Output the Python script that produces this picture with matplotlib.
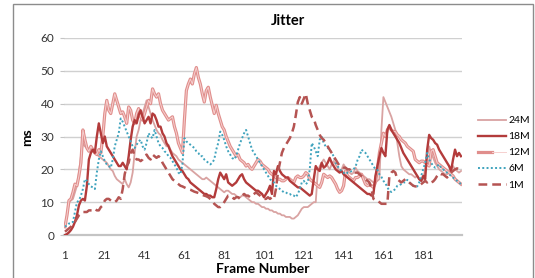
import matplotlib
matplotlib.use("Agg")
import matplotlib.pyplot as plt
from matplotlib.patches import Rectangle
from matplotlib.legend_handler import HandlerTuple
import numpy as np

plt.rcParams['font.family'] = ['Lato', 'DejaVu Sans']

# frame numbers 1..200
frames = np.arange(1, 201)
tick_frames = [1, 21, 41, 61, 81, 101, 121, 141, 161, 181]

jitter_24m = [
    3, 6, 10, 10.5, 11, 13, 15, 19, 24, 28,
    27, 26.5, 26, 25.5, 25.5, 25, 24.5, 24, 23.5, 23,
    22.5, 22, 21, 20, 19.5, 18, 17, 16.5, 16, 15.5,
    17, 15.5, 14.5, 16, 19, 25, 30, 32, 35, 37,
    39, 41, 39, 37, 35, 33.5, 32, 31, 30.5, 29,
    28, 27, 27.5, 26, 25, 24.5, 24, 23, 22.5, 22,
    21.5, 21, 20.5, 20, 19.5, 19, 18.5, 18, 17.5, 17,
    17, 17.5, 17, 16.5, 16, 15.5, 15, 14.5, 14, 13.5,
    13, 13.5, 13.5, 13, 12.5, 12.5, 12, 11.5, 11.5, 12,
    12, 11.5, 11, 10.5, 10, 10, 9.5, 9.5, 9, 8.5,
    8.5, 8, 8, 7.5, 7.5, 7, 7, 6.5, 6.5, 6,
    6, 5.5, 5.5, 5.5, 5, 5, 5.5, 6, 7, 8,
    8.5, 8.5, 8.5, 9, 9.5, 10, 10, 19, 21, 22,
    23, 22, 21, 20, 21.5, 22.5, 21.5, 20.5, 19.5, 20,
    21.5, 20.5, 19.5, 19, 18.5, 19, 20.5, 19.5, 19, 18.5,
    18, 17.5, 17, 17, 16.5, 16, 16, 16.5, 17, 32,
    42, 40.5, 39, 37.5, 36, 34, 32, 28, 24, 21,
    20, 19.5, 19, 18.5, 18.5, 18, 17.5, 18, 17, 16.5,
    17, 20, 24, 27, 25, 23.5, 22, 21, 20, 19.5,
    19, 18.5, 18.5, 19, 20, 21, 20, 19.5, 19, 19.5,
]

jitter_18m = [
    0, 0.3, 0.8, 1.5, 2.5, 4, 6, 9, 10.5, 11,
    10.5, 15, 23, 25, 26, 25, 30, 34, 31, 28,
    30, 27, 26, 25, 24, 23, 22, 21, 21, 22,
    21, 20, 24, 29, 33, 35, 34, 36.5, 38, 36,
    34, 35, 36, 34, 37, 36.5, 35, 33, 33, 31,
    30, 28, 27, 25.5, 24, 23, 22, 21, 20, 19.5,
    18.5, 17.5, 17, 16, 15.5, 15, 14.5, 14, 13.5, 13,
    12.5, 12.5, 12, 12, 11.5, 11.5, 14, 17, 19, 18,
    17, 18.5, 16, 15.5, 15, 15.5, 16, 17, 18, 18.5,
    17, 16, 15.5, 15, 14.5, 14, 13.5, 13.5, 13, 12.5,
    11.5, 12.5, 13.5, 15, 12.5, 19.5, 18.5, 21, 19.5, 18.5,
    18, 17.5, 17.5, 16.5, 16, 15.5, 15, 14.5, 14.5, 14,
    13.5, 13, 12.5, 12, 12.5, 17, 21, 20, 19.5, 22,
    20.5, 21, 22, 23.5, 22, 21, 20, 19.5, 19, 19.5,
    18.5, 18, 17.5, 17, 16.5, 16, 15.5, 15, 14.5, 14,
    13.5, 13, 12.5, 12.5, 12, 12.5, 18, 21, 24, 26.5,
    25, 24, 32, 33.5, 32, 31, 30, 29, 28, 26.5,
    25, 24, 23, 22, 21, 20, 19, 18, 17, 16.5,
    18, 17, 26, 30.5, 29.5, 29, 28, 27.5, 26, 25,
    24, 23, 22, 21, 19.5, 23, 26, 24, 25, 24,
]

jitter_12m = [
    2.5, 6, 10.5, 11, 13, 15.5, 15, 18, 22, 32,
    29, 26.5, 25.5, 27, 26, 25, 24.5, 26, 25, 30,
    37, 41, 38, 37, 40, 43, 41, 39, 37, 37.5,
    36, 34, 39, 38, 35, 34, 37, 38.5, 36, 35,
    37, 39, 41, 40, 44.5, 43, 42, 43, 40, 38,
    37, 36, 35, 35.5, 36, 33, 31, 28, 26.5, 25,
    35, 44, 46, 47.5, 46, 49, 51, 48, 46, 43,
    40.5, 44, 45, 42, 39.5, 37, 39.5, 37, 35, 33,
    32, 30, 28.5, 27, 26, 25, 24, 24.5, 23, 22.5,
    22, 21, 21.5, 20.5, 20, 21, 22, 23, 22.5, 21.5,
    21, 20.5, 20, 19, 18.5, 18, 17.5, 17, 17, 16.5,
    16.5, 17, 17.5, 17, 16.5, 16, 17.5, 18, 17.5, 17.5,
    18, 19, 18.5, 17, 16.5, 16, 15.5, 15, 14.5, 16,
    18.5, 18, 17.5, 18, 17.5, 16.5, 15.5, 14, 13, 13.5,
    15, 19.5, 18, 17.5, 17, 16.5, 17.5, 17.5, 18, 18.5,
    17, 15.5, 15, 15.5, 15, 14.5, 16, 20, 25, 28,
    31, 30, 32, 33, 32, 31.5, 31.5, 30.5, 30, 29,
    28.5, 28, 27, 26.5, 26, 25.5, 23, 22.5, 22, 22.5,
    22.5, 22, 21.5, 21, 25.5, 26, 24, 22, 21.5, 21,
    20.5, 20, 19.5, 19, 18.5, 18, 17, 16.5, 16, 15.5,
]

jitter_6m = [
    2.5, 3, 3.5, 3.5, 4, 7, 10, 10.5, 12, 14,
    17, 16.5, 15.5, 14.8, 14.5, 14, 19, 23, 25.5, 24,
    22.5, 21.5, 21, 20.5, 23, 27, 29, 31, 35.5, 34.5,
    33, 31.5, 30, 28.5, 27, 26.5, 27.5, 28.5, 29, 27,
    26, 28, 31, 30, 29.5, 32, 30, 28, 27, 26.5,
    25.5, 25, 24, 23.5, 22.5, 21.5, 20.5, 19, 18.5, 21.5,
    29.5, 28.5, 28, 27.5, 27, 26.5, 25.5, 25, 24, 24,
    23, 22.5, 22, 21.5, 22, 23, 26, 28, 31.5, 30.5,
    29, 27, 25.5, 24.5, 23.5, 23, 24, 26, 28, 29.5,
    31, 32, 30, 28, 26, 25, 24, 23, 22, 21,
    20, 19, 18, 17, 16.5, 16, 15, 14.5, 14, 13.5,
    13, 13, 12.5, 12.5, 12, 12, 11.5, 12.5, 14, 16,
    16.5, 15.5, 16, 20, 28, 27, 25.5, 24, 29, 30,
    28, 27, 26.5, 26, 25, 24, 22, 21, 20, 19.5,
    19, 18.5, 19, 19, 19.5, 20, 20.8, 22.8, 24, 26,
    25.5, 25, 24, 23, 22, 21, 20, 19.8, 18.5, 17.7,
    16.5, 15.8, 14.5, 13.5, 13.1, 13.5, 14, 15, 15.2, 15.5,
    16, 16, 16.8, 16, 15.5, 15, 14.8, 14.8, 16, 18,
    20, 22, 25, 23, 22, 21, 20.5, 21, 21.5, 20.5,
    20, 19.5, 19, 18.5, 18, 17.5, 17, 16.5, 16, 15.5,
]

jitter_1m = [
    1, 1.5, 2, 2.5, 3.5, 4, 5, 6, 6.5, 7,
    7, 7, 7.5, 7.5, 7.5, 8, 7.5, 7.5, 8.5, 9,
    10.5, 11, 11, 10.5, 10, 10, 10.5, 11.5, 11, 14,
    18.5, 21, 22, 25, 26, 24, 23, 23, 22.5, 23,
    24, 24.5, 23.5, 23, 24.5, 24, 23.5, 24, 23.5, 22,
    21, 20, 19, 18, 17, 16.5, 16, 15.5, 15, 14.8,
    14.5, 14.2, 14, 13.8, 13.5, 13.2, 13, 12.8, 12.5, 12.2,
    12, 11.8, 11.5, 11, 10.5, 9.5, 9, 8.5, 8.5, 9,
    10, 11, 12, 12, 11.5, 11, 11.5, 11.5, 11, 12,
    12.5, 12, 12, 11.5, 12, 12.5, 13, 12.5, 12, 11.5,
    11, 11, 11.5, 11, 11.5, 11, 14, 19, 22, 25,
    26.5, 27.5, 28.5, 29.5, 31, 33, 36.5, 40.5, 42, 40,
    41.5, 43, 40, 38, 36, 35.5, 33.5, 32, 30.5, 29.5,
    29, 28, 27, 26, 25, 24, 23, 22, 21, 21,
    20.5, 20.5, 20, 20, 19.5, 19.5, 19, 19, 18.5, 18,
    17.5, 17, 16.5, 16, 14, 11, 10.5, 10.5, 10, 9.5,
    9.5, 9.5, 9.5, 18, 19, 19.5, 19, 17, 16.5, 16,
    16.5, 17, 16.5, 16, 15.5, 15, 14.8, 14.8, 15, 15.5,
    16, 16.5, 16, 16.5, 16, 16.3, 17, 18, 18.8, 18.5,
    18.5, 18, 17.5, 18.5, 19, 19.5, 20, 20.3, 20, 20.5,
]

c24 = '#d9a3a2'
c18 = '#b33b3b'
c12 = '#e08e8c'
c12_in = '#f6d0cf'
c6 = '#3fa3bd'
c1 = '#b55452'

fig = plt.figure(figsize=(5.35, 2.78), dpi=100)
ax = fig.add_axes([64/535, 1 - 235/278, 398/535, 197/278])

# outer chart border
fig.patches.append(Rectangle((13/535, -0.02), 520/535, 1 - 4/278 + 0.02,
                             transform=fig.transFigure, fill=False,
                             edgecolor='#8c8c8c', linewidth=1.0))

l24, = ax.plot(frames, jitter_24m, color=c24, lw=1.3, zorder=3)
l18, = ax.plot(frames, jitter_18m, color=c18, lw=1.7, zorder=4)
l12a, = ax.plot(frames, jitter_12m, color=c12, lw=2.3, zorder=3)
l12b, = ax.plot(frames, jitter_12m, color=c12_in, lw=0.7, zorder=3)
l6, = ax.plot(frames, jitter_6m, color=c6, lw=1.4, linestyle=(0, (1, 1.2)), zorder=5)
l1, = ax.plot(frames, jitter_1m, color=c1, lw=1.8, linestyle=(0, (3.5, 2)), zorder=5)

ax.set_xlim(0.5, 200.5)
ax.set_ylim(0, 60)
ax.set_yticks(range(0, 61, 10))
ax.set_xticks(tick_frames)
ax.grid(axis='y', color='#d0d0d0', lw=1.0)
ax.set_axisbelow(True)
for s in ['left', 'right', 'top']:
    ax.spines[s].set_visible(False)
ax.spines['bottom'].set_color('#c4c4c4')
ax.spines['bottom'].set_linewidth(1.6)
ax.tick_params(axis='x', length=0, pad=11, labelsize=8.5, colors='#333333')
ax.tick_params(axis='y', length=3, color='#c4c4c4', pad=4, labelsize=8.5, colors='#333333')

fig.text(288/535, 1 - 21/278, 'Jitter', ha='center', va='center',
         fontsize=10.5, fontweight='bold')
fig.text(27/535, 1 - 137/278, 'ms', ha='center', va='center', rotation=90,
         fontsize=10, fontweight='bold')
fig.text(263/535, 1 - 269/278, 'Frame Number', ha='center', va='center',
         fontsize=10, fontweight='bold')

handles = [l24, l18, (l12a, l12b), l6, l1]
labels = ['24M', '18M', '12M', '6M', '1M']
fig.legend(handles, labels, loc='upper left',
           bbox_to_anchor=(478/535, 1 - 116/278), frameon=False,
           fontsize=7.5, handlelength=2.7, handletextpad=0.2,
           labelspacing=0.65, borderpad=0, borderaxespad=0,
           handler_map={tuple: HandlerTuple(ndivide=None)})

fig.savefig('out.png', dpi=100)
